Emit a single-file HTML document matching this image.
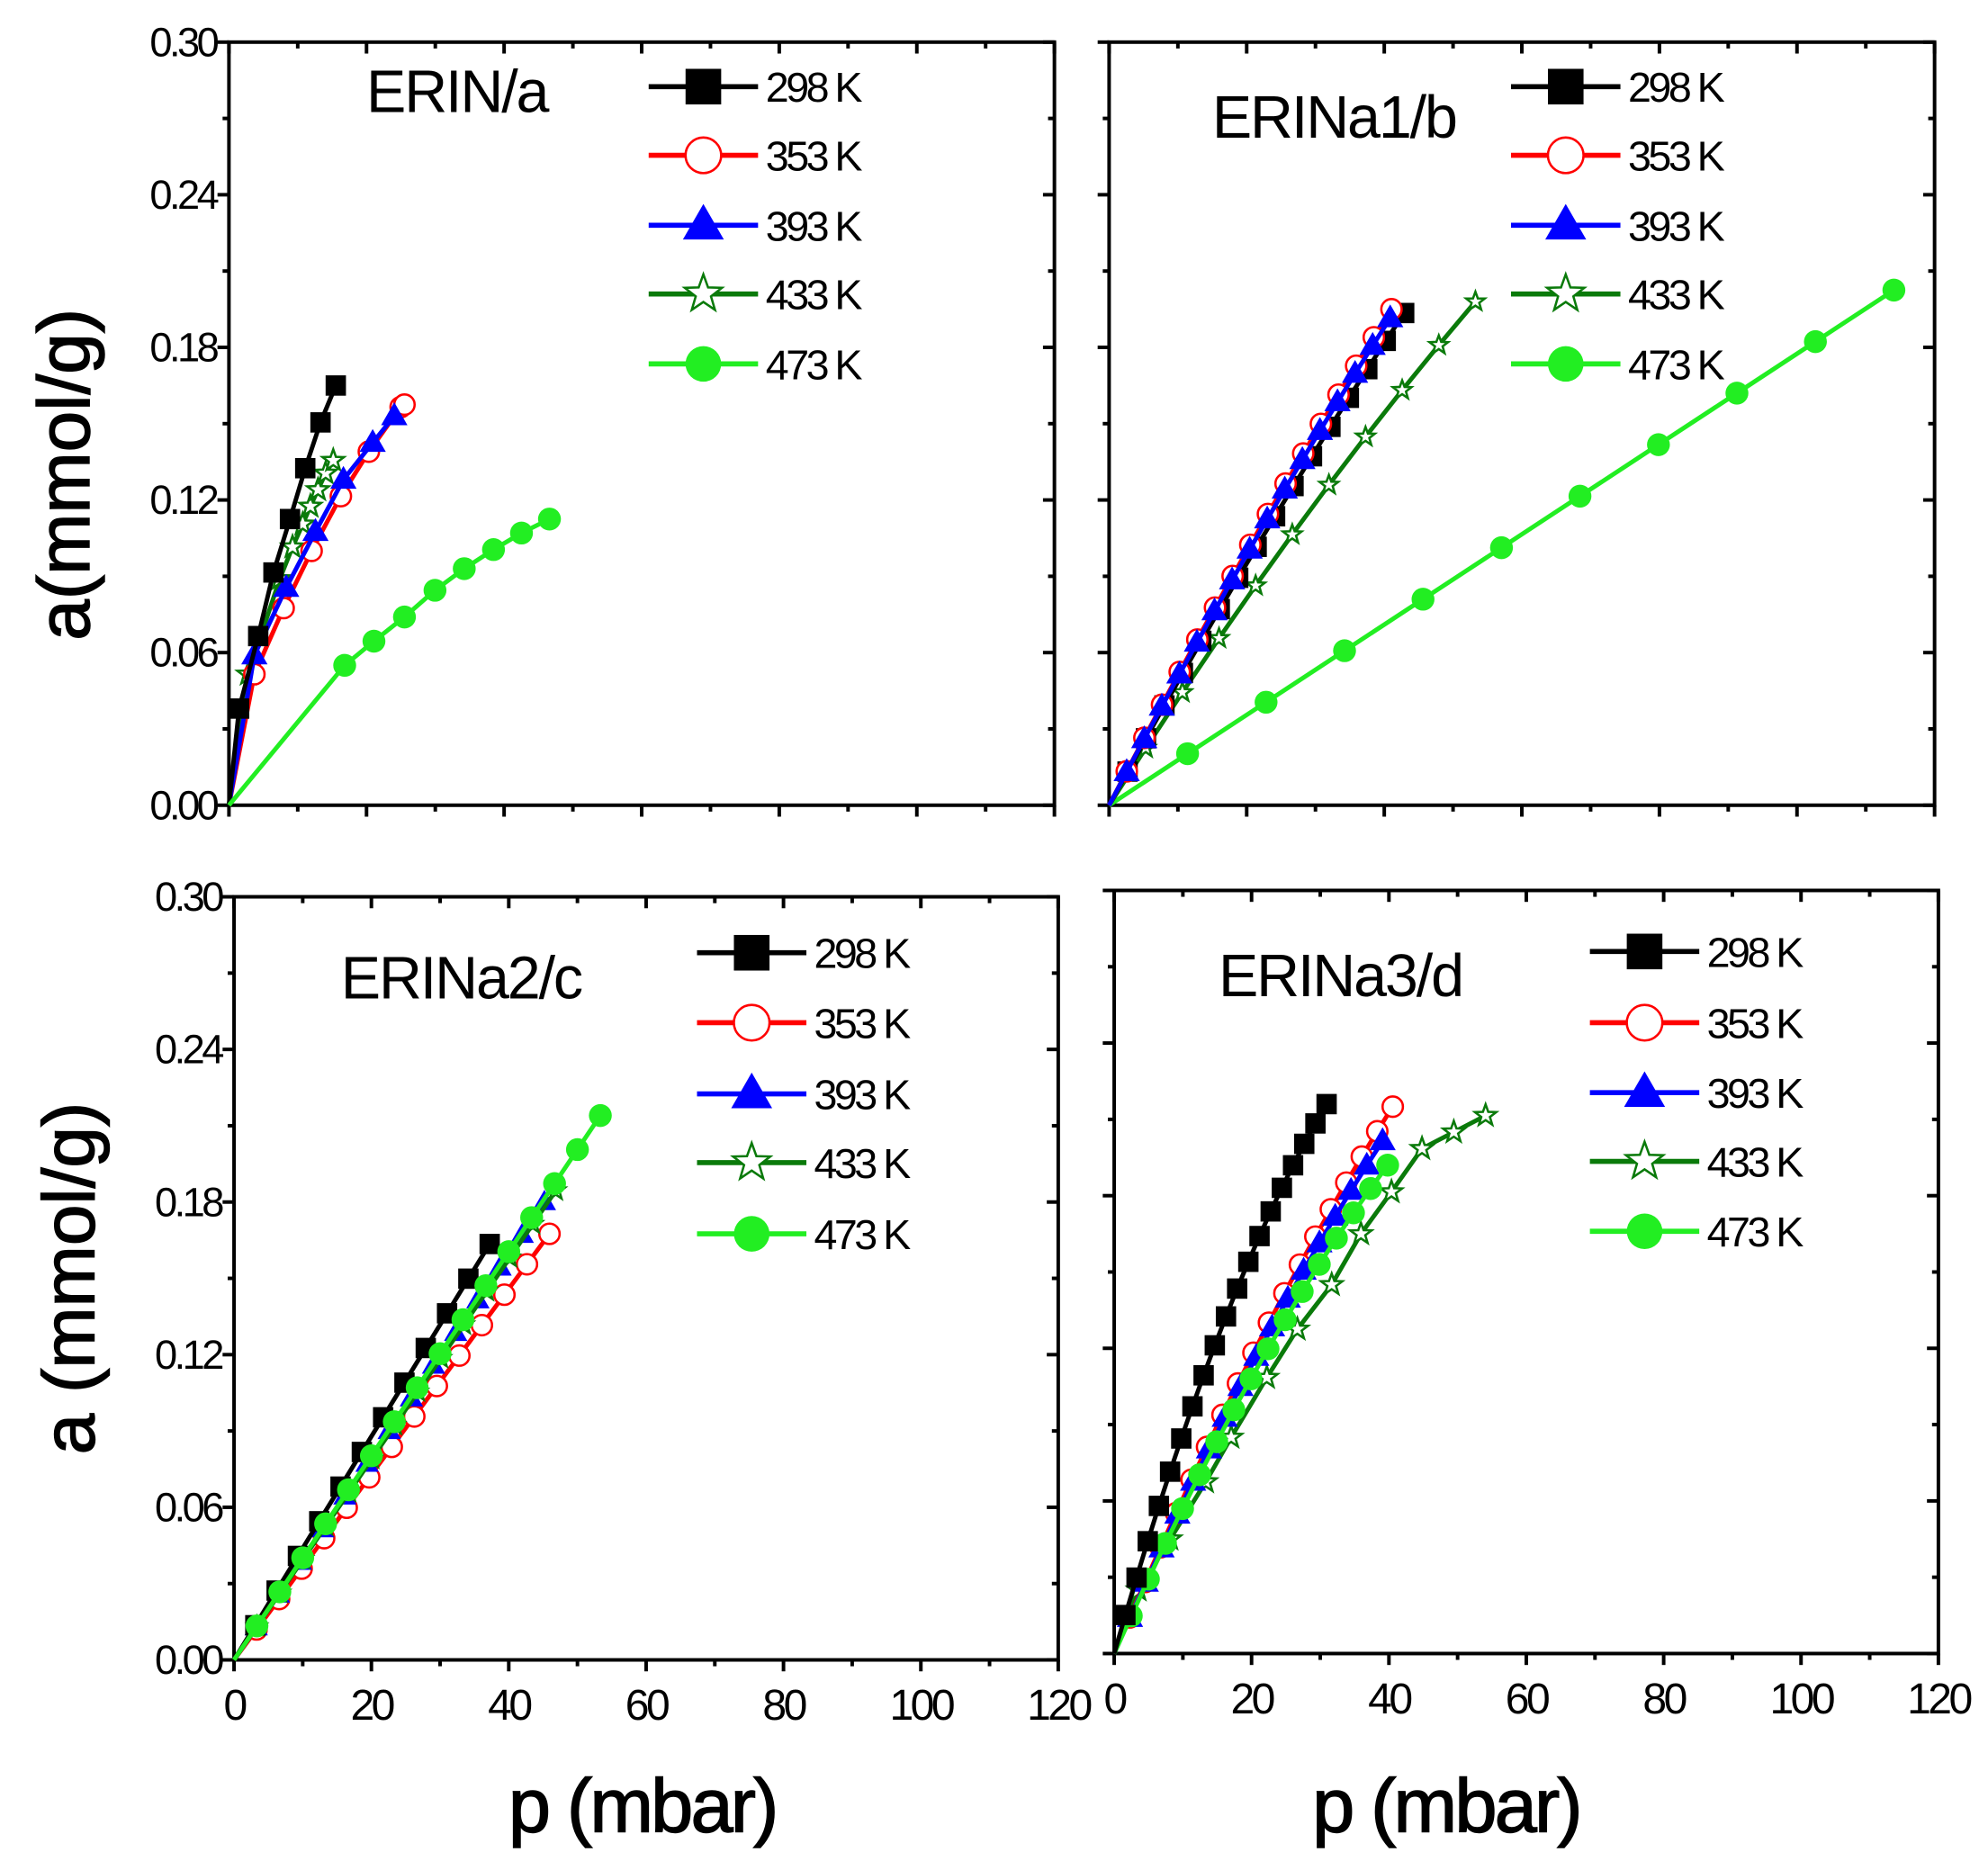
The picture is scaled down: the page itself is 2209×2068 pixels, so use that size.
<!DOCTYPE html>
<html><head><meta charset="utf-8"><style>html,body{margin:0;padding:0;background:#fff}svg{display:block}</style></head>
<body>
<svg id="s" xmlns="http://www.w3.org/2000/svg" width="2209" height="2068" viewBox="0 0 1563 1463" font-family="'Liberation Sans', sans-serif"></svg>
<script>
const S=document.getElementById('s');let h='';
const C={298:'#000',353:'#f00',393:'#00f',433:'#0a7a0a',473:'#22ee22'};
function mk(t,x,y,s){const c=C[t];
 if(t==298)return `<rect x="${x-s}" y="${y-s}" width="${2*s}" height="${2*s}" fill="#000"/>`;
 if(t==353)return `<circle cx="${x}" cy="${y}" r="${s}" fill="#fff" stroke="#f00" stroke-width="1.8"/>`;
 if(t==393)return `<polygon points="${x},${y-s*1.2} ${x+s*1.15},${y+s*0.8} ${x-s*1.15},${y+s*0.8}" fill="#00f"/>`;
 if(t==433){let p=[];for(let i=0;i<10;i++){const r=i%2?s*0.45:s*1.1,a=-Math.PI/2+i*Math.PI/5;p.push((x+r*Math.cos(a)).toFixed(1)+','+(y+r*Math.sin(a)).toFixed(1));}return `<polygon points="${p.join(' ')}" fill="#fff" stroke="${c}" stroke-width="1.8"/>`;}
 return `<circle cx="${x}" cy="${y}" r="${s}" fill="${c}"/>`;}
function series(t,pts,s){h+=`<polyline points="${pts.map(p=>p.join(',')).join(' ')}" fill="none" stroke="${C[t]}" stroke-width="3.5"/>`;pts.slice(1).forEach(p=>h+=mk(t,p[0],p[1],s));}
function lin(o,e,n){let r=[o];for(let i=1;i<=n;i++)r.push([o[0]+(e[0]-o[0])*i/n,o[1]+(e[1]-o[1])*i/n]);return r;}
function curve(o,e,n,b){let r=[o];for(let i=1;i<=n;i++){const f=i/n;const g=f+b*f*(1-f);r.push([o[0]+(e[0]-o[0])*f,o[1]+(e[1]-o[1])*g]);}return r;}
function axes(x0,y0,x1,y1,yl,xl){
 h+=`<rect x="${x0}" y="${y0}" width="${x1-x0}" height="${y1-y0}" fill="none" stroke="#000" stroke-width="2.8"/>`;
 for(let i=0;i<=10;i++){const y=y1-(y1-y0)*i/10,L=i%2?5:9;h+=`<line x1="${x0-L}" x2="${x0}" y1="${y}" y2="${y}" stroke="#000" stroke-width="2.8"/><line x1="${x1}" x2="${x1-L}" y1="${y}" y2="${y}" stroke="#000" stroke-width="2.8"/>`;
  if(yl&&i%2==0)h+=`<text x="${x0-10}" y="${y+11}" font-size="32" text-anchor="end" letter-spacing="-2.5">${(0.03*i).toFixed(2)}</text>`;}
 for(let i=0;i<=12;i++){const x=x0+(x1-x0)*i/12,L=i%2?5:9;h+=`<line x1="${x}" x2="${x}" y1="${y1}" y2="${y1+L}" stroke="#000" stroke-width="2.8"/><line x1="${x}" x2="${x}" y1="${y0}" y2="${y0+L}" stroke="#000" stroke-width="2.8"/>`;
  if(xl&&i%2==0)h+=`<text x="${x}" y="${y1+47}" font-size="34" text-anchor="middle" letter-spacing="-2.5">${10*i}</text>`;}}
function legend(x,ys){[298,353,393,433,473].forEach((t,i)=>{const y=ys[i];h+=`<line x1="${x}" x2="${x+86}" y1="${y}" y2="${y}" stroke="${C[t]}" stroke-width="4"/>`+mk(t,x+43,y,14)+`<text x="${x+92}" y="${y+12}" font-size="33" letter-spacing="-2.5">${t} K</text>`;});}
function title(x,y,s){h+=`<text x="${x}" y="${y}" font-size="47" letter-spacing="-1.5">${s}</text>`;}
// Panel a
axes(180,33,829,633,true,false);
series(433,[[180,633],[195,530],[220,455],[230,430],[238,412],[244,398],[250,385],[256,372],[262,362]],8);
series(353,[[180,633],[200,530],[223,478],[245,433],[268,390],[290,355],[315,320],[318,318]],8);
series(393,[[180,633],[200,515],[225,462],[248,418],[270,377],[293,348],[310,327]],9);
series(298,[[180,633],[188,557],[203,500],[215,450],[228,408],[240,368],[252,332],[264,303]],8);
series(473,[[180,633],[271,523],[294,504],[318,485],[342,464],[365,447],[388,432],[410,419],[432,408]],9);
title(288,88,'ERIN/a');legend(510,[68,122,177,231,286]);
// Panel b
axes(872,33,1521,633,false,false);
series(473,lin([872,633],[1489,228],10),9);
series(433,curve([872,633],[1160,237],10,0.15),7);
series(298,curve([872,633],[1104,246],16,0.1),8);
series(353,curve([872,633],[1094,243],16,0.1),8);
series(393,curve([872,633],[1093,250],16,0.1),9);
title(953,108,'ERINa1/b');legend(1188,[68,122,177,231,286]);
// Panel c
axes(184,705,832,1305,true,true);
series(353,lin([184,1305],[432,970],14),8);
series(393,lin([184,1305],[428,945],14),8);
series(433,lin([184,1305],[437,936],14),7);
series(298,lin([184,1305],[385,978],12),8);
series(473,lin([184,1305],[472,877],16),9);
title(268,785,'ERINa2/c');legend(548,[749,804,860,914,970]);
// Panel d
axes(876,700,1524,1300,false,true);
series(433,[[876,1300],[895,1250],[920,1210],[948,1165],[968,1130],[996,1083],[1020,1045],[1047,1010],[1070,970],[1094,937],[1118,903],[1143,890],[1168,877]],8);
series(353,curve([876,1300],[1095,870],18,0.2),8);
series(393,curve([876,1300],[1087,897],17,0.2),9);
series(473,curve([876,1300],[1091,916],16,0.25),9);
series(298,curve([876,1300],[1043,868],19,0.35),8);
title(958,783,'ERINa3/d');legend(1250,[748,804,859,913,968]);
// axis titles
h+=`<text transform="translate(70,373) rotate(-90)" font-size="58" text-anchor="middle" stroke="#000" stroke-width="1">a(mmol/g)</text>`;
h+=`<text transform="translate(74,1005) rotate(-90)" font-size="58" text-anchor="middle" stroke="#000" stroke-width="1">a (mmol/g)</text>`;
h+=`<text x="505" y="1440" font-size="60" text-anchor="middle" letter-spacing="-2" stroke="#000" stroke-width="1">p (mbar)</text>`;
h+=`<text x="1137" y="1440" font-size="60" text-anchor="middle" letter-spacing="-2" stroke="#000" stroke-width="1">p (mbar)</text>`;
S.innerHTML=h;
</script>
</body></html>
